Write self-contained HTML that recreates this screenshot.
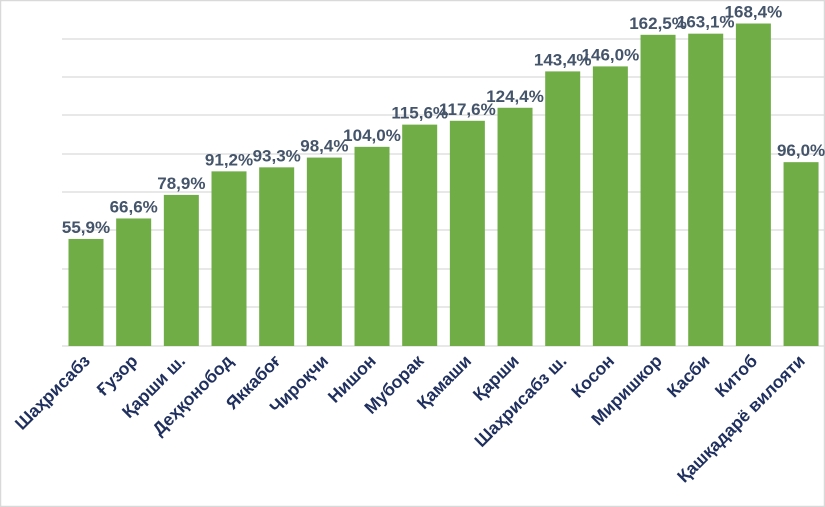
<!DOCTYPE html>
<html><head><meta charset="utf-8"><style>
html,body{margin:0;padding:0;background:#fff}
svg{display:block}
</style></head><body>
<svg width="825" height="507" xmlns="http://www.w3.org/2000/svg" font-family="Liberation Sans, Arial, sans-serif">
<rect x="0.5" y="0.5" width="824" height="506" fill="#fff" stroke="#d9d9d9" stroke-width="1.5"/>
<g stroke="#d9d9d9" stroke-width="1.2">
<line x1="62" x2="825" y1="39" y2="39"/><line x1="62" x2="825" y1="77" y2="77"/>
<line x1="62" x2="825" y1="115" y2="115"/><line x1="62" x2="825" y1="154" y2="154"/>
<line x1="62" x2="825" y1="192" y2="192"/><line x1="62" x2="825" y1="230" y2="230"/>
<line x1="62" x2="825" y1="269" y2="269"/><line x1="62" x2="825" y1="307" y2="307"/>
<line x1="62" x2="825" y1="346" y2="346"/>
</g>
<g id="bars" fill="#70ad47"></g>
<g id="vals" fill="#44546a" font-size="17" font-weight="bold" text-anchor="middle"></g>
<g id="cats" fill="#1f2f5e" font-size="17.5" font-weight="bold" text-anchor="end"></g>
<script>
var d=[["Шаҳрисабз",55.9],["Ғузор",66.6],["Қарши ш.",78.9],["Деҳқонобод",91.2],["Яккабоғ",93.3],["Чироқчи",98.4],["Нишон",104.0],["Муборак",115.6],["Қамаши",117.6],["Қарши",124.4],["Шаҳрисабз ш.",143.4],["Косон",146.0],["Миришкор",162.5],["Касби",163.1],["Китоб",168.4],["Қашқадарё  вилояти",96.0]];
var ns="http://www.w3.org/2000/svg",b=document.getElementById("bars"),v=document.getElementById("vals"),c=document.getElementById("cats");
d.forEach(function(e,i){
 var cx=86+i*47.67,h=e[1]*1.915,y=346-h;
 var r=document.createElementNS(ns,"rect");r.setAttribute("x",cx-17.5);r.setAttribute("y",y);r.setAttribute("width",35);r.setAttribute("height",h);b.appendChild(r);
 var t=document.createElementNS(ns,"text");t.setAttribute("x",cx);t.setAttribute("y",y-6);t.textContent=e[1].toFixed(1).replace(".",",")+"%";v.appendChild(t);
 var l=document.createElementNS(ns,"text");l.setAttribute("transform","translate("+(cx+5)+",362) rotate(-45)");l.textContent=e[0];c.appendChild(l);
});
</script>
</svg>
</body></html>
